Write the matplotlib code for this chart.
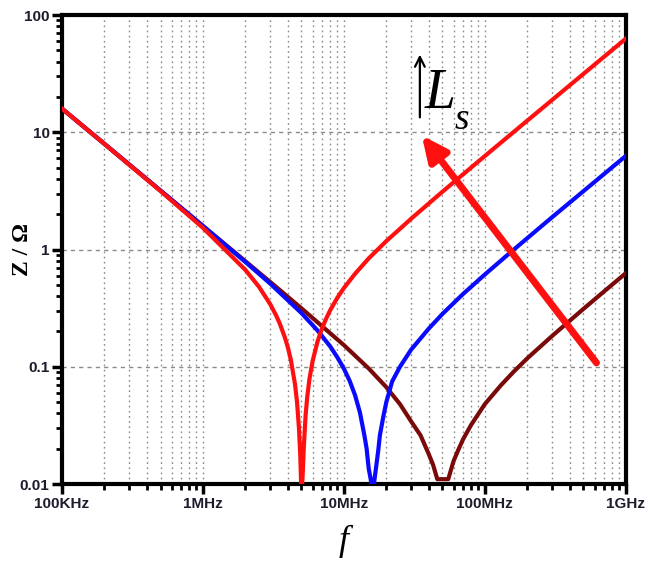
import matplotlib
matplotlib.use("Agg")
import matplotlib.pyplot as plt
from matplotlib.ticker import FixedLocator, LogLocator, NullFormatter

# ---- data ----
f_red = [1e5, 2e5, 5e5, 1e6, 2e6, 2.5e6, 3e6, 3.3e6, 3.5e6, 3.8e6, 4e6, 4.2e6, 4.5e6, 4.65e6, 4.8e6,
         4.9e6, 5.0e6, 5.1e6, 5.2e6, 5.35e6, 5.5e6, 5.7e6, 6e6, 6.5e6, 7e6, 7.5e6, 8e6, 9e6,
         1e7, 1.2e7, 1.5e7, 2e7, 3e7, 5e7, 1e8, 2e8, 5e8, 1e9]
z_red = [15.9, 7.95, 3.15, 1.53, 0.67, 0.480, 0.342, 0.275, 0.235, 0.180, 0.147, 0.115, 0.071, 0.050,
         0.030, 0.018, 0.008, 0.012, 0.021, 0.0386, 0.056, 0.079, 0.112, 0.164, 0.213, 0.259, 0.304,
         0.389, 0.469, 0.621, 0.84, 1.18, 1.83, 3.11, 6.27, 12.56, 31.4, 62.8]

f_blue = [1e5, 2e5, 5e5, 1e6, 2e6, 3e6, 5e6, 6.5e6, 8e6, 9e6, 1e7, 1.1e7, 1.2e7, 1.3e7, 1.4e7, 1.45e7,
          1.5e7, 1.55e7, 1.6e7, 1.65e7, 1.7e7, 1.75e7, 1.8e7, 1.9e7, 2e7, 2.2e7, 2.5e7, 3e7, 4e7,
          5e7, 7e7, 1e8, 1.5e8, 2e8, 3e8, 5e8, 1e9]
z_blue = [15.9, 7.96, 3.18, 1.585, 0.783, 0.512, 0.287, 0.204, 0.149, 0.120, 0.0964, 0.0756, 0.0572,
          0.0407, 0.0257, 0.020, 0.0135, 0.011, 0.008, 0.011, 0.0145, 0.019, 0.026, 0.037, 0.050,
          0.075, 0.100, 0.140, 0.2115, 0.282, 0.417, 0.612, 0.932, 1.249, 1.885, 3.14, 6.28]

f_maroon = [1e5, 2e5, 5e5, 1e6, 2e6, 3e6, 5e6, 1e7, 1.5e7, 2e7, 2.5e7, 3e7, 3.5e7, 4e7, 4.3e7, 4.6e7,
            5.5e7, 6e7, 6.5e7, 7e7, 8e7, 1e8, 1.3e8, 1.6e8, 2e8, 3e8, 5e8, 7e8, 1e9]
z_maroon = [15.9, 7.96, 3.18, 1.59, 0.795, 0.529, 0.315, 0.153, 0.0967, 0.067, 0.048, 0.0342, 0.026,
            0.018, 0.0145, 0.011, 0.011, 0.0157, 0.0197, 0.024, 0.032, 0.048, 0.0695, 0.0906, 0.118,
            0.183, 0.311, 0.438, 0.628]

x_ticks = [1e5, 1e6, 1e7, 1e8, 1e9]
x_labels = ["100KHz", "1MHz", "10MHz", "100MHz", "1GHz"]
y_ticks = [0.01, 0.1, 1, 10, 100]
y_labels = ["0.01", "0.1", "1", "10", "100"]

# ---- figure ----
fig = plt.figure(figsize=(6.66, 5.64), dpi=100)
ax = fig.add_axes([0.0931, 0.1418, 0.8465, 0.8316])
ax.set_xscale("log")
ax.set_yscale("log")
ax.set_xlim(1e5, 1e9)
ax.set_ylim(0.01, 100)

ax.xaxis.set_major_locator(FixedLocator(x_ticks))
ax.xaxis.set_minor_locator(LogLocator(base=10, subs=range(2, 10), numticks=20))
ax.yaxis.set_major_locator(FixedLocator(y_ticks))
ax.yaxis.set_minor_locator(LogLocator(base=10, subs=range(2, 10), numticks=20))
ax.xaxis.set_minor_formatter(NullFormatter())
ax.yaxis.set_minor_formatter(NullFormatter())
ax.grid(True, which="minor", axis="x", color="#8a8a8a", linestyle=(0, (1.2, 2.5)), linewidth=1.0)
ax.grid(True, which="major", axis="x", color="#8a8a8a", linestyle=(0, (1.2, 2.5)), linewidth=1.0)
ax.grid(True, which="major", axis="y", color="#8a8a8a", linestyle=(0, (3, 3)), linewidth=1.0)

ax.plot(f_maroon, z_maroon, color="#7a0a0a", lw=3, solid_joinstyle="round", zorder=3)
ax.plot(f_blue, z_blue, color="#0a0aff", lw=3, solid_joinstyle="round", zorder=4)
ax.plot(f_red, z_red, color="#ff1010", lw=3, solid_joinstyle="round", zorder=5)

ax.set_xticks(x_ticks)
ax.set_xticklabels(x_labels)
ax.set_yticks(y_ticks)
ax.set_yticklabels(y_labels)
for lab in ax.get_xticklabels() + ax.get_yticklabels():
    lab.set_fontfamily("Liberation Sans")
    lab.set_fontweight("bold")
    lab.set_fontsize(11)
    lab.set_color("#1c1c2c")

ax.tick_params(which="major", direction="out", length=7, width=2.5, pad=2)
ax.tick_params(which="minor", direction="out", length=4, width=2.0)
for s in ax.spines.values():
    s.set_linewidth(3)
    s.set_color("black")

ax.set_ylabel("Z / Ω", fontfamily="Liberation Serif", fontweight="bold", fontsize=17)
ax.yaxis.set_label_coords(-0.052, 0.5)
ax.set_xlabel("f", fontfamily="Liberation Serif", fontstyle="italic", fontsize=26, labelpad=10)

# red arrow
ax.annotate("", xy=(3.57e7, 9.4), xytext=(6.2e8, 0.108),
            arrowprops=dict(arrowstyle="-|>,head_length=1.5,head_width=0.7",
                            color="#ff1010", lw=5, shrinkA=0, shrinkB=0), zorder=6)
# thin black arrow and L_s
ax.annotate("", xy=(3.46e7, 46), xytext=(3.46e7, 13.4),
            arrowprops=dict(arrowstyle="->,head_length=0.7,head_width=0.35",
                            color="black", lw=1.6, shrinkA=0, shrinkB=0), zorder=6)
ax.text(3.75e7, 16.0, "L", fontfamily="Liberation Serif", fontstyle="italic", fontsize=40,
        va="baseline", ha="left", zorder=6)
ax.text(6.1e7, 10.6, "s", fontfamily="Liberation Serif", fontstyle="italic", fontsize=27,
        va="baseline", ha="left", zorder=6)

fig.savefig("out.png", dpi=100)
